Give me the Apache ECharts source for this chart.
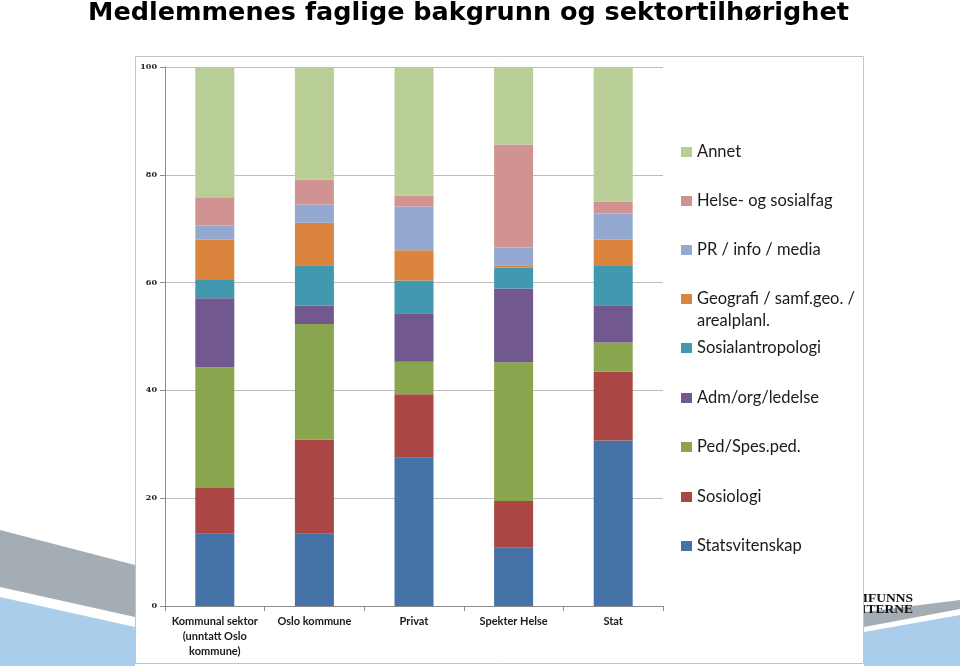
<!DOCTYPE html>
<html>
<head>
<meta charset="utf-8">
<script src="https://cdn.jsdelivr.net/npm/echarts@6/dist/echarts.min.js"></script>
<style>html,body{margin:0;padding:0;background:#fff;}#c{width:960px;height:666px;}</style>
</head>
<body>
<div id="c"></div>
<script>
const titleText = 'Medlemmenes faglige bakgrunn og sektortilhørighet';
const categories = ['Kommunal sektor\n(unntatt Oslo\nkommune)', 'Oslo kommune', 'Privat', 'Spekter Helse', 'Stat'];
const yTicks = [0, 20, 40, 60, 80, 100];

const statsvitenskap = [13.4, 13.4, 27.5, 10.8, 30.7];
const sosiologi      = [8.5, 17.5, 11.8, 8.7, 12.8];
const pedSpesped     = [22.4, 21.4, 6.0, 25.7, 5.4];
const admOrgLedelse  = [12.8, 3.4, 9.0, 13.7, 6.9];
const sosialantro    = [3.4, 7.5, 6.1, 3.9, 7.3];
const geografi       = [7.5, 7.9, 5.6, 0.4, 4.9];
const prInfoMedia    = [2.6, 3.4, 8.1, 3.3, 4.8];
const helseSosial    = [5.1, 4.6, 2.0, 19.1, 2.2];
const annet          = [24.3, 20.9, 23.9, 14.4, 25.0];

const seriesNames = ['Statsvitenskap', 'Sosiologi', 'Ped/Spes.ped.', 'Adm/org/ledelse', 'Sosialantropologi',
  'Geografi / samf.geo. / arealplanl.', 'PR / info / media', 'Helse- og sosialfag', 'Annet'];
const seriesData = [statsvitenskap, sosiologi, pedSpesped, admOrgLedelse, sosialantro, geografi, prInfoMedia, helseSosial, annet];
const colors = ['#4573A7', '#AA4643', '#89A54E', '#71588F', '#4198AF', '#DB843D', '#93A9CF', '#D19392', '#B9CD96'];

const legendFont = 'Lato, "Open Sans", sans-serif';
// legend rows (top = Annet)
const legendCenters = [152, 201, 250, 299, 348, 398, 447, 497, 546];
const legendOrder = seriesNames.slice().reverse();
const legends = legendOrder.map((name, i) => {
  const isGeo = name.indexOf('Geografi') === 0;
  return {
    orient: 'vertical',
    left: 681,
    top: isGeo ? legendCenters[i] - 33 : legendCenters[i] - 11,
    padding: 0,
    itemGap: 0,
    itemWidth: 11,
    itemHeight: 10,
    icon: 'rect',
    data: [name],
    formatter: isGeo ? () => ' \nGeografi / samf.geo. /\narealplanl.' : undefined,
    textStyle: {
      fontFamily: legendFont,
      fontSize: 16.5,
      color: '#1a1a1a',
      lineHeight: 22
    }
  };
});

const chart = echarts.init(document.getElementById('c'), null, { renderer: 'canvas' });
chart.setOption({
  animation: false,
  backgroundColor: '#ffffff',
  color: colors,
  title: {
    text: titleText,
    left: 88,
    top: 0,
    padding: 0,
    textStyle: { fontFamily: '"DejaVu Sans", sans-serif', fontWeight: 'bold', fontSize: 25.5, color: '#000' }
  },
  legend: legends,
  graphic: [
    { type: 'polygon', z: -20, shape: { points: [[0, 530], [135, 565], [135, 617], [0, 587]] }, style: { fill: '#a4adb4' } },
    { type: 'polygon', z: -20, shape: { points: [[0, 597], [135, 627], [135, 666], [0, 666]] }, style: { fill: '#a9cdeb' } },
    { type: 'polygon', z: -20, shape: { points: [[864, 612], [960, 600], [960, 609], [864, 627]] }, style: { fill: '#a4adb4' } },
    { type: 'polygon', z: -20, shape: { points: [[864, 632], [960, 615], [960, 666], [864, 666]] }, style: { fill: '#a9cdeb' } },
    { type: 'text', z: -15, x: 913, y: 606, style: { text: 'SAMFUNNS', textAlign: 'right', textVerticalAlign: 'bottom', fontFamily: '"Liberation Serif", serif', fontWeight: 'bold', fontSize: 13.5, fill: '#111' } },
    { type: 'text', z: -15, x: 913, y: 617, style: { text: 'VITERNE', textAlign: 'right', textVerticalAlign: 'bottom', fontFamily: '"Liberation Serif", serif', fontWeight: 'bold', fontSize: 13.5, fill: '#111' } },
    { type: 'rect', z: -10, shape: { x: 135.5, y: 56.5, width: 728, height: 607 }, style: { fill: '#ffffff', stroke: '#c4c4c4', lineWidth: 1 } }
  ],
  grid: { left: 165, right: 297, top: 67, bottom: 60, containLabel: false },
  xAxis: {
    type: 'category',
    data: categories,
    axisLine: { lineStyle: { color: '#8c8c8c' } },
    axisTick: { show: true, length: 5, lineStyle: { color: '#8c8c8c' } },
    axisLabel: {
      interval: 0,
      margin: 8,
      fontFamily: legendFont,
      fontWeight: 'bold',
      fontSize: 11,
      lineHeight: 15,
      color: '#1a1a1a'
    }
  },
  yAxis: {
    type: 'value',
    min: 0,
    max: 100,
    interval: 20,
    axisLine: { show: true, lineStyle: { color: '#8c8c8c' } },
    axisTick: { show: true, length: 5, lineStyle: { color: '#8c8c8c' } },
    splitLine: { lineStyle: { color: '#bdbdbd', width: 1 } },
    axisLabel: {
      margin: 8,
      fontFamily: '"DejaVu Serif", serif',
      fontWeight: 'bold',
      fontSize: 8,
      color: '#222',
      formatter: v => (yTicks.indexOf(v) >= 0 ? String(v) : '')
    }
  },
  series: seriesNames.map((name, i) => ({
    name: name,
    type: 'bar',
    stack: 'total',
    barWidth: 39,
    data: seriesData[i],
    itemStyle: { color: colors[i] }
  }))
});
</script>
</body>
</html>
